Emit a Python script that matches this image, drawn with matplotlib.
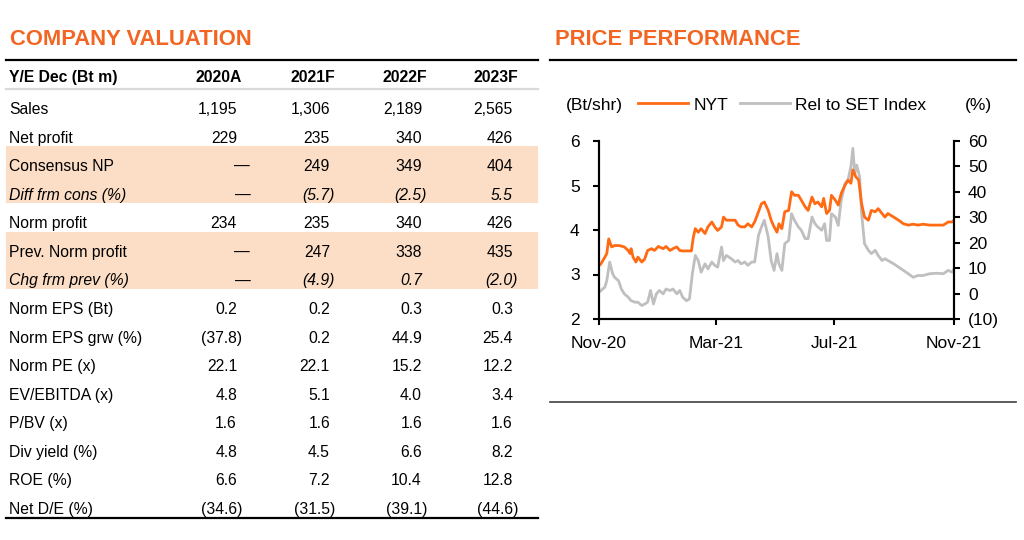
import pandas as pd
import numpy as np
import matplotlib
matplotlib.use("Agg")
import matplotlib.pyplot as plt
import matplotlib.dates as mdates
from matplotlib.lines import Line2D
from matplotlib.patches import Rectangle

W, H = 1024, 540
ORANGE = "#F26522"
LINE_ORANGE = "#FF6A13"
GREY = "#BFBFBF"
BAND = "#FCDEC6"

plt.rcParams["font.family"] = ["Liberation Sans", "DejaVu Sans"]

#### table data ####
years = ["2020A", "2021F", "2022F", "2023F"]
sales = [1195, 1306, 2189, 2565]
net_profit = [229, 235, 340, 426]
consensus_np = [None, 249, 349, 404]
diff_frm_cons = [None, -5.7, -2.5, 5.5]
norm_profit = [234, 235, 340, 426]
prev_norm_profit = [None, 247, 338, 435]
chg_frm_prev = [None, -4.9, 0.7, -2.0]
norm_eps = [0.2, 0.2, 0.3, 0.3]
norm_eps_grw = [-37.8, 0.2, 44.9, 25.4]
norm_pe = [22.1, 22.1, 15.2, 12.2]
ev_ebitda = [4.8, 5.1, 4.0, 3.4]
pbv = [1.6, 1.6, 1.6, 1.6]
div_yield = [4.8, 4.5, 6.6, 8.2]
roe = [6.6, 7.2, 10.4, 12.8]
net_de = [-34.6, -31.5, -39.1, -44.6]

#### price performance data (days since 1 Nov 2020) ####
nyt_days = [0, 2, 6, 8, 10, 13, 16, 21, 26, 30, 32, 33, 35, 38, 40, 44, 47, 50, 54, 57,
            61, 66, 69, 73, 76, 80, 83, 86, 92, 95, 97, 99, 102, 105, 109, 112, 116, 119, 122, 126,
            128, 131, 136, 140, 143, 146, 150, 153, 157, 160, 164, 167, 170, 174, 177, 180, 183, 185, 188, 191,
            195, 198, 201, 205, 208, 212, 215, 219, 222, 225, 229, 231, 234, 237, 239, 243, 246, 249, 253, 256,
            259, 261, 264, 267, 270, 273, 277, 280, 284, 287, 291, 294, 297, 303, 308, 313, 318, 323, 328, 333,
            340, 347, 354, 359, 363, 365]
nyt_price = [3.20, 3.24, 3.39, 3.47, 3.80, 3.62, 3.65, 3.65, 3.62, 3.54, 3.47, 3.58, 3.39, 3.28, 3.39, 3.28, 3.35, 3.54, 3.58, 3.54,
             3.63, 3.58, 3.63, 3.54, 3.58, 3.62, 3.54, 3.53, 3.53, 3.53, 3.84, 4.03, 3.95, 4.03, 3.92, 4.07, 4.18, 4.07, 3.99, 4.07,
             4.29, 4.22, 4.22, 4.22, 4.11, 4.07, 4.07, 4.14, 4.07, 4.18, 4.41, 4.59, 4.63, 4.44, 4.22, 4.07, 3.95, 4.14, 4.03, 4.41,
             4.44, 4.86, 4.78, 4.78, 4.67, 4.52, 4.44, 4.74, 4.59, 4.63, 4.52, 4.71, 4.37, 4.44, 4.78, 4.67, 4.56, 4.82, 5.01, 5.12,
             5.05, 5.35, 5.20, 5.12, 4.59, 4.29, 4.22, 4.44, 4.41, 4.48, 4.37, 4.29, 4.37, 4.29, 4.22, 4.14, 4.11, 4.13, 4.11, 4.13,
             4.11, 4.11, 4.11, 4.18, 4.18, 4.22]

rel_days = [0, 2, 6, 8, 11, 14, 16, 20, 23, 26, 30, 33, 37, 40, 44, 47, 50, 53, 56, 59,
            62, 66, 69, 73, 76, 80, 83, 86, 90, 93, 96, 99, 102, 105, 109, 112, 116, 119, 122, 126,
            128, 131, 136, 140, 143, 146, 150, 153, 157, 160, 164, 167, 170, 174, 177, 180, 183, 185, 188, 191,
            195, 198, 201, 205, 208, 212, 215, 219, 222, 225, 229, 232, 234, 237, 239, 243, 246, 249, 253, 256,
            259, 261, 263, 265, 268, 270, 273, 277, 280, 284, 287, 291, 294, 297, 303, 308, 313, 318, 323, 328,
            333, 340, 347, 354, 359, 363, 365]
rel_set = [0.5, 1.2, 2.5, 5.1, 12.4, 7.8, 6.4, 5.1, 1.8, -0.1, -1.4, -2.8, -3.4, -3.4, -4.7, -4.1, -3.4, 1.2, -4.1, -0.1,
           1.2, -0.1, 1.8, 1.2, 1.8, -0.1, 1.2, -1.4, -2.8, -2.1, 7.8, 15.0, 13.0, 8.4, 11.7, 9.7, 12.4, 11.1, 10.4, 18.3,
           13.0, 15.0, 13.7, 12.4, 13.0, 11.7, 12.4, 11.1, 12.4, 12.4, 22.9, 26.2, 28.8, 22.2, 13.0, 9.1, 15.7, 11.7, 9.1, 19.6,
           20.9, 31.4, 28.8, 26.2, 24.9, 21.6, 21.6, 30.1, 27.5, 26.2, 24.9, 27.5, 20.9, 20.9, 31.4, 30.1, 26.8, 36.7, 43.3, 44.6,
           49.9, 57.1, 47.2, 50.5, 45.9, 31.4, 19.6, 17.0, 15.7, 17.0, 15.0, 13.0, 13.7, 13.0, 11.7, 10.4, 9.1, 7.8, 6.4, 7.1,
           7.1, 7.8, 8.0, 7.8, 9.1, 8.4, 9.7]

start = pd.Timestamp("2020-11-01")
nyt_dates = start + pd.to_timedelta(nyt_days, unit="D")
rel_dates = start + pd.to_timedelta(rel_days, unit="D")
x_ticks = pd.to_datetime(["2020-11-01", "2021-03-01", "2021-07-01", "2021-11-01"])


def px(x, y):
    # pixel position (from top-left) to figure coords
    return x / W, 1 - y / H


def fmt(v, dec):
    if v is None:
        return "\u2014"
    s = f"{abs(v):,.{dec}f}"
    return f"({s})" if v < 0 else s


fig = plt.figure(figsize=(W / 100, H / 100), dpi=100)

#### COMPANY VALUATION ####
fig.text(*px(10, 45), "COMPANY VALUATION", color=ORANGE, fontsize=15.8, fontweight="bold", va="baseline")
fig.add_artist(Line2D([6 / W, 538 / W], [1 - 60 / H] * 2, color="black", lw=1.6))
fig.add_artist(Line2D([6 / W, 538 / W], [1 - 89 / H] * 2, color="#D9D9D9", lw=1.6))

rows = [
    ("Sales", sales, 0, False, False),
    ("Net profit", net_profit, 0, False, False),
    ("Consensus NP", consensus_np, 0, False, True),
    ("Diff frm cons (%)", diff_frm_cons, 1, True, True),
    ("Norm profit", norm_profit, 0, False, False),
    ("Prev. Norm profit", prev_norm_profit, 0, False, True),
    ("Chg frm prev (%)", chg_frm_prev, 1, True, True),
    ("Norm EPS (Bt)", norm_eps, 1, False, False),
    ("Norm EPS grw (%)", norm_eps_grw, 1, False, False),
    ("Norm PE (x)", norm_pe, 1, False, False),
    ("EV/EBITDA (x)", ev_ebitda, 1, False, False),
    ("P/BV (x)", pbv, 1, False, False),
    ("Div yield (%)", div_yield, 1, False, False),
    ("ROE (%)", roe, 1, False, False),
    ("Net D/E (%)", net_de, 1, False, False),
]
col_x = [237, 330, 422, 513]
row_y0, row_step = 108, 28.57
fs = 11.3

# shaded bands
for top, bot in [(146, 203), (232, 289)]:
    fig.add_artist(Rectangle(px(6, bot), 532 / W, (bot - top) / H, facecolor=BAND,
                             edgecolor="none", zorder=0))

fig.text(*px(9, 82), "Y/E Dec (Bt m)", fontsize=fs, fontweight="bold", va="baseline")
for cx, yr in zip(col_x, years):
    fig.text(*px(cx + 5, 82), yr, fontsize=fs, fontweight="bold", ha="right", va="baseline")

for i, (label, vals, dec, italic, shaded) in enumerate(rows):
    yb = row_y0 + i * row_step + 6
    style = "italic" if italic else "normal"
    fig.text(*px(9, yb), label, fontsize=fs, style=style, va="baseline")
    for cx, v in zip(col_x, vals):
        s = fmt(v, dec)
        off = 13 if v is None else (5 if v < 0 else 0)
        fig.text(*px(cx + off, yb), s, fontsize=fs, style=style, ha="right", va="baseline")

fig.add_artist(Line2D([6 / W, 538 / W], [1 - 518 / H] * 2, color="black", lw=1.6))

#### PRICE PERFORMANCE ####
fig.text(*px(555, 45), "PRICE PERFORMANCE", color=ORANGE, fontsize=15.8, fontweight="bold", va="baseline")
fig.add_artist(Line2D([550 / W, 1016 / W], [1 - 60 / H] * 2, color="black", lw=1.6))
fig.add_artist(Line2D([550 / W, 1016 / W], [1 - 402 / H] * 2, color="#404040", lw=1.2))

# legend row
lfs = 12.5
fig.text(*px(566, 110), "(Bt/shr)", fontsize=lfs, va="baseline")
fig.add_artist(Line2D([638 / W, 688 / W], [1 - 103 / H] * 2, color=LINE_ORANGE, lw=2))
fig.text(*px(694, 110), "NYT", fontsize=lfs, va="baseline")
fig.add_artist(Line2D([740 / W, 790 / W], [1 - 103 / H] * 2, color=GREY, lw=2))
fig.text(*px(795, 110), "Rel to SET Index", fontsize=lfs, va="baseline")
fig.text(*px(965, 110), "(%)", fontsize=lfs, va="baseline")

ax = fig.add_axes([599 / W, 1 - 319 / H, 355 / W, 178 / H])
ax2 = ax.twinx()
ax2.plot(rel_dates, rel_set, color=GREY, lw=2)
ax.plot(nyt_dates, nyt_price, color=LINE_ORANGE, lw=2)
ax.set_zorder(ax2.get_zorder() + 1)
ax.patch.set_visible(False)

ax.set_xlim(x_ticks[0], x_ticks[-1])
ax.set_ylim(2, 6)
ax2.set_ylim(-10, 60)
ax.set_xticks(x_ticks)
ax.xaxis.set_major_formatter(mdates.DateFormatter("%b-%y"))
ax.set_yticks([2, 3, 4, 5, 6])
ax2.set_yticks(range(-10, 61, 10))
ax2.set_yticklabels(["(10)"] + [str(v) for v in range(0, 61, 10)])

for a in (ax, ax2):
    a.spines["top"].set_visible(False)
    for sp in a.spines.values():
        sp.set_linewidth(1.5)
    a.tick_params(direction="out", length=4, width=1.5, labelsize=12.5)
ax.tick_params(axis="y", pad=10)
ax2.tick_params(axis="y", pad=6)
ax.tick_params(axis="x", pad=8)

fig.savefig("out.png", dpi=100)
